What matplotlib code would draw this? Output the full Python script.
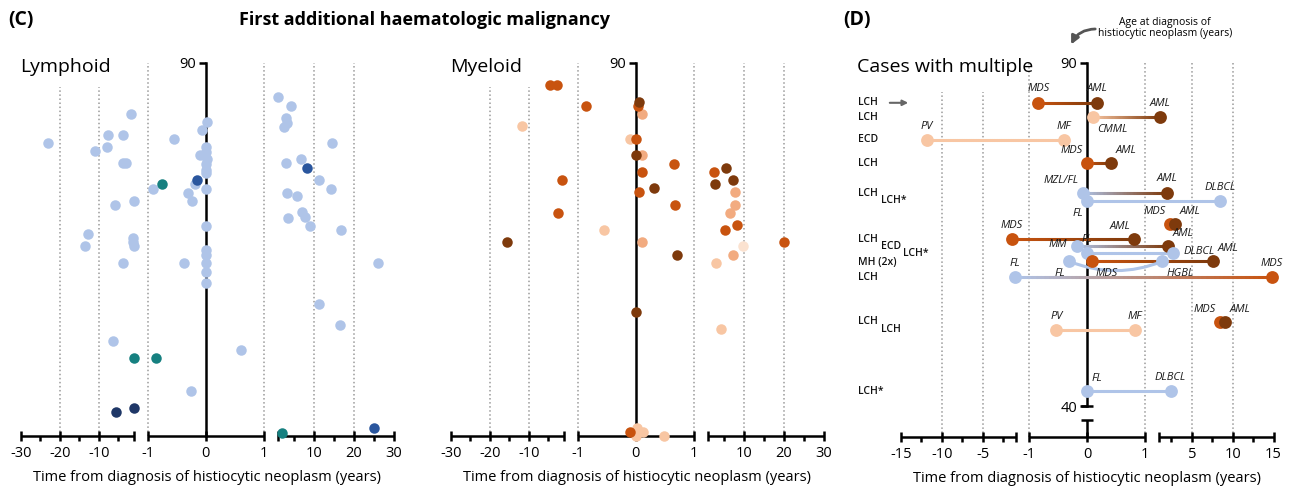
import numpy as np
import matplotlib
matplotlib.use('Agg')
import matplotlib.pyplot as plt
import matplotlib.colors as mcolors
import matplotlib.transforms as mtransforms
from matplotlib.collections import LineCollection

plt.rcParams['font.family'] = ['Open Sans', 'DejaVu Sans']

W, H = 1290, 497

# ---------------- panel C, lymphoid (time in years, age in years) ----------------
lym_light_t = [-23.1, -1.8, -7.7, -3.8, -11.0, -8.0, -3.8, -3.0, -1.0, -6.0, -12.7, -13.7,
               -1.2, -1.2, -1.1, -3.8, -6.5,
               0.03, -0.07, -0.54, 0.0, 0.0, -0.09, 0.02, 0.0, 0.01, 0.0, -0.18, -0.90, 0.0,
               -0.31, -0.23, 0.0, 0.0, 0.0, 0.0, 0.0, 0.0, -0.38, 0.60, -0.26,
               1.1, 4.2, 2.9, 3.2, 2.6, 14.5, 3.1, 6.8, 11.2, 14.4, 3.2, 5.8, 7.0, 7.8, 3.5,
               9.1, 16.7, 26.2, 11.4, 16.6]
lym_light_age = [70.8, 77.7, 72.7, 72.7, 68.8, 69.8, 65.8, 65.8, 56.7, 55.7, 48.7, 45.8,
                 47.7, 46.7, 45.8, 41.8, 22.9,
                 75.7, 73.8, 71.7, 69.8, 68.6, 67.8, 66.8, 65.6, 64.3, 63.4, 60.7, 59.7, 59.7,
                 58.7, 56.7, 50.7, 44.9, 43.7, 41.8, 39.6, 36.8, 41.8, 20.8, 10.8,
                 81.7, 79.7, 76.7, 75.6, 74.6, 70.8, 65.8, 66.8, 61.7, 59.7, 58.7, 57.8, 54.0, 52.9, 52.7,
                 50.7, 49.7, 41.8, 31.9, 26.8]
lym_teal_t = [-0.75, -1.1, -0.86, 2.1]
lym_teal_age = [60.7, 18.8, 18.8, 0.8]
lym_navy_t = [-5.5, -1.1]
lym_navy_age = [5.8, 6.8]
lym_blue_t = [-0.15, 8.3, 25.0]
lym_blue_age = [61.7, 64.7, 1.9]

# ---------------- panel C, myeloid ----------------
mye_brown_t = [0.06, 0.0, 0.32, -15.6, 0.70, 5.5, 2.7, 7.3, 0.01]
mye_brown_age = [80.7, 67.7, 59.8, 46.8, 43.7, 64.7, 60.7, 61.8, 29.9]
mye_orange_t = [-4.6, -2.7, -0.86, 0.04, 0.0, 0.66, 0.11, -1.6, 0.06, 0.68, -2.6, 2.4,
                8.3, 5.2, 20.1, -0.1]
mye_orange_age = [84.7, 84.7, 79.7, 79.7, 71.7, 65.7, 63.8, 61.8, 58.8, 55.8, 53.8, 63.8,
                  50.8, 49.8, 46.8, 0.9]
mye_salmon_t = [0.10, 0.11, 0.10, 7.9, 7.9, 6.5, 7.2]
mye_salmon_age = [77.7, 67.7, 46.8, 58.8, 55.8, 53.7, 43.7]
mye_peach_t = [-11.9, -0.09, -0.54, 2.9, 4.3, 0.03, 0.13, 0.0, 0.49]
mye_peach_age = [74.8, 71.7, 49.8, 41.8, 25.9, 1.9, 0.9, 0.0, 0.0]
mye_pale_t = [9.9]
mye_pale_age = [45.9]

# ---------------- panel D, cases with multiple ----------------
d_age = [84.2, 82.1, 78.8, 75.4, 71.1, 69.9, 66.6, 64.3, 63.3, 62.3, 61.1, 61.1, 58.8, 52.2, 51.1, 42.2]
d_first = ['MDS', 'CMML', 'PV', 'MDS', 'MZL/FL', 'FL', 'MDS', 'MDS', 'MM', 'FL', 'MDS', 'FL', 'FL', 'MDS', 'PV', 'FL']
d_first_t = [-0.84, 0.10, -11.8, 0.0, -0.08, 0.0, 2.35, -1.5, -0.18, 0.0, 0.08, -0.31, -1.1, 8.5, -0.53, 0.0]
d_second = ['AML', 'AML', 'MF', 'AML', 'AML', 'DLBCL', 'AML', 'AML', 'AML', 'DLBCL', 'AML', 'HGBL', 'MDS', 'AML', 'MF', 'DLBCL']
d_second_t = [0.17, 1.1, -0.40, 0.41, 1.94, 8.5, 2.96, 0.81, 2.14, 2.75, 7.6, 1.4, 14.8, 9.1, 0.83, 2.4]
d_link = ['line', 'line', 'line', 'line', 'line', 'line', 'none', 'line', 'line', 'line', 'line', 'arc',
          'line', 'none', 'line', 'line']
# where each italic label sits relative to its dot
d_first_pos = ['a', 'br', 'a', 'al', 'al', 'bl', 'al', 'a', 'l', 'a', 'br', 'bl', 'a', 'al', 'a', 'ar']
d_second_pos = ['a', 'a', 'a', 'ar', 'a', 'a', 'ar', 'al', 'ar', 'r', 'ar', 'br', 'a', 'ar', 'a', 'a']

row_labels = ['LCH', 'LCH', 'ECD', 'LCH', 'LCH', 'LCH*', 'LCH', 'ECD', 'LCH*', 'MH (2x)', 'LCH',
              'LCH', 'LCH', 'LCH*']
row_ages = [84.2, 82.1, 78.8, 75.4, 71.0, 69.9, 64.3, 63.2, 62.3, 61.0, 58.8, 52.3, 51.1, 42.2]
row_indent = [0, 0, 0, 0, 0, 1, 0, 1, 2, 0, 0, 0, 1, 0]

LIGHT_BLUE = '#afc4e8'
TEAL = '#168080'
NAVY = '#1f3767'
MID_BLUE = '#2a569e'
BROWN = '#7e3a0c'
ORANGE = '#c8530f'
SALMON = '#f2ab80'
PEACH = '#f8c6a3'
PALE = '#fbe2d0'
GRID = '#9a9a9a'

d_colors = {'MDS': ORANGE, 'AML': BROWN, 'CMML': PEACH, 'PV': PEACH, 'MF': PEACH,
            'MZL/FL': LIGHT_BLUE, 'FL': LIGHT_BLUE, 'DLBCL': LIGHT_BLUE, 'MM': LIGHT_BLUE,
            'HGBL': LIGHT_BLUE}


def make_scale(lim, us):
    # broken axis: [-lim,-1] | [-1,1] | [1,lim], tiny data ranges for the gaps
    xs = np.array([-lim, -1.0, -0.999, 1.0, 1.001, lim])
    us = np.array(us, dtype=float)
    s = (us[1] - us[0]) / (lim - 1)
    xs_e = np.concatenate([[-lim - 1000], xs, [lim + 1000]])
    us_e = np.concatenate([[us[0] - 1000 * s], us, [us[-1] + 1000 * s]])

    def fwd(x):
        return np.interp(np.asarray(x, dtype=float), xs_e, us_e)

    def inv(u):
        return np.interp(np.asarray(u, dtype=float), us_e, xs_e)
    return fwd, inv


fig = plt.figure(figsize=(W / 100, H / 100), dpi=100)


def px_axes(x0, x1, y_top, y_bot):
    return fig.add_axes([x0 / W, 1 - y_bot / H, (x1 - x0) / W, (y_bot - y_top) / H])


def setup(ax, lim, us, major, major_lab, minor, grid_full, grid_short, short_top, ylim):
    fwd, inv = make_scale(lim, us)
    ax.set_xscale('function', functions=(fwd, inv))
    ax.set_xlim(-lim, lim)
    ax.set_ylim(*ylim)
    for s in ['top', 'right', 'bottom']:
        ax.spines[s].set_visible(False)
    ax.spines['left'].set_position(('data', 0))
    ax.spines['left'].set_linewidth(1.8)
    ax.spines['left'].set_zorder(2.5)
    for a, b in [(-lim, -1.0), (-0.999, 1.0), (1.001, lim)]:
        ax.plot([a, b], [0, 0], transform=ax.get_xaxis_transform(), color='black', lw=1.8,
                clip_on=False, solid_capstyle='butt', zorder=2.5)
    ax.set_xticks(major)
    ax.set_xticklabels(major_lab)
    ax.set_xticks(minor, minor=True)
    ax.tick_params(axis='x', which='major', direction='inout', length=7, width=1.8,
                   labelsize=10.5, pad=4)
    ax.tick_params(axis='x', which='minor', direction='out', length=3.5, width=1.8)
    ax.tick_params(axis='y', direction='out', length=5, width=1.8, labelsize=10.5, pad=2)
    ax.vlines(grid_full, ylim[0], 90, colors=GRID, linestyles=':', lw=1.1, zorder=0)
    ax.vlines(grid_short, ylim[0], short_top, colors=GRID, linestyles=':', lw=1.1, zorder=0)
    ax.set_xlabel('Time from diagnosis of histiocytic neoplasm (years)', fontsize=10.5, labelpad=6)
    return fwd, inv


c_major = [-30, -20, -10, -1.0, -0.999, 0, 1.0, 1.001, 10, 20, 30]
c_major_lab = ['-30', '-20', '-10', '', '-1', '0', '1', '', '10', '20', '30']
c_minor = [-25, -15, -5, 5, 15, 25]
c_us = [0, 113, 126.5, 243, 257, 372.5]

# ---- Lymphoid ----
ax1 = px_axes(21, 393.5, 63, 436)
setup(ax1, 30, c_us, c_major, c_major_lab, c_minor, [-0.999, 1.0, 10, 20], [-20, -10], 84.2, (0, 90))
ax1.set_yticks([90])
ax1.scatter(lym_light_t, lym_light_age, s=57, color=LIGHT_BLUE, lw=0, zorder=3, clip_on=False)
ax1.scatter(lym_teal_t, lym_teal_age, s=57, color=TEAL, lw=0, zorder=3, clip_on=False)
ax1.scatter(lym_navy_t, lym_navy_age, s=57, color=NAVY, lw=0, zorder=3, clip_on=False)
ax1.scatter(lym_blue_t, lym_blue_age, s=57, color=MID_BLUE, lw=0, zorder=3, clip_on=False)

# ---- Myeloid ----
ax2 = px_axes(451, 823.5, 63, 436)
setup(ax2, 30, c_us, c_major, c_major_lab, c_minor, [-0.999, 1.0, 10, 20], [-20, -10], 84.2, (0, 90))
ax2.set_yticks([90])
for tt, aa, cc in [(mye_peach_t, mye_peach_age, PEACH), (mye_pale_t, mye_pale_age, PALE),
                   (mye_salmon_t, mye_salmon_age, SALMON), (mye_orange_t, mye_orange_age, ORANGE),
                   (mye_brown_t, mye_brown_age, BROWN)]:
    ax2.scatter(tt, aa, s=57, color=cc, lw=0, zorder=3, clip_on=False)

# ---- Cases with multiple ----
d_major = [-15, -10, -5, -1.0, -0.999, 0, 1.0, 1.001, 5, 10, 15]
d_major_lab = ['-15', '-10', '-5', '', '-1', '0', '1', '', '5', '10', '15']
d_minor = [-12.5, -7.5, -2.5, 2.5, 7.5, 12.5]
d_ylo = 35.5
ax3 = px_axes(900.7, 1273.5, 63, 437)
fwd, inv = setup(ax3, 15, [0, 115, 128.5, 244.5, 258.5, 372.8], d_major, d_major_lab, d_minor,
                 [-0.999, 1.0, 5, 10], [-10, -5], 85.8, (d_ylo, 90))
ax3.spines['left'].set_bounds(40, 90)
ax3.set_yticks([90, 40])
ax3.plot([0, 0], [d_ylo, 38.0], color='black', lw=1.8, clip_on=False, solid_capstyle='butt', zorder=2.5)
ax3.plot([0, 0], [38.0, 40], ls='none', marker='_', ms=8, mew=1.8, color='black', clip_on=False, zorder=2.5)

pos = {'a': (0, 6, 'center', 'bottom'), 'al': (-3, 5, 'right', 'bottom'),
       'ar': (3, 5, 'left', 'bottom'), 'bl': (-3, -5, 'right', 'top'),
       'br': (3, -5, 'left', 'top'), 'l': (-7, 1, 'right', 'center'),
       'r': (7, 1, 'left', 'center')}


def grad_line(ax, x0, x1, y, c0, c1, n=60):
    u = np.linspace(fwd([x0])[0], fwd([x1])[0], n)
    xs = inv(u)
    pts = np.column_stack([xs, np.full(n, y)])
    segs = np.stack([pts[:-1], pts[1:]], axis=1)
    t = np.linspace(0, 1, n - 1)[:, None]
    cols = np.array(mcolors.to_rgb(c0)) * (1 - t) + np.array(mcolors.to_rgb(c1)) * t
    lc = LineCollection(segs, colors=cols, linewidths=2.2, capstyle='round', zorder=2.6)
    ax.add_collection(lc, autolim=False)


for i in range(len(d_age)):
    c0, c1 = d_colors[d_first[i]], d_colors[d_second[i]]
    if d_link[i] == 'line':
        grad_line(ax3, d_first_t[i], d_second_t[i], d_age[i], c0, c1)
    elif d_link[i] == 'arc':
        ax3.annotate('', xy=(d_second_t[i], d_age[i]), xytext=(d_first_t[i], d_age[i]),
                     arrowprops=dict(arrowstyle='-', connectionstyle='arc3,rad=0.2', color=c0,
                                     lw=2.2, shrinkA=0, shrinkB=0), zorder=2.6)
for i in range(len(d_age)):
    for name, tt, p in [(d_first[i], d_first_t[i], d_first_pos[i]),
                        (d_second[i], d_second_t[i], d_second_pos[i])]:
        ax3.scatter([tt], [d_age[i]], s=85, color=d_colors[name], lw=0, zorder=3, clip_on=False)
        dx, dy, ha, va = pos[p]
        ax3.annotate(name, (tt, d_age[i]), xytext=(dx, dy), textcoords='offset points',
                     ha=ha, va=va, fontsize=8, style='italic', color='#1a1a1a', zorder=4)

blend = mtransforms.blended_transform_factory(fig.transFigure, ax3.transData)
for lab, age, ind in zip(row_labels, row_ages, row_indent):
    x = [858, 881, 903][ind]
    ax3.text(x / W, age, lab, transform=blend, fontsize=7.5, fontweight='semibold',
             ha='left', va='center', color='#111111')
ax3.annotate('', xy=(911 / W, row_ages[0]), xytext=(887 / W, row_ages[0]),
             xycoords=blend, textcoords=blend,
             arrowprops=dict(arrowstyle='-|>', color='#666666', lw=1.5, mutation_scale=8))

# ---- titles and notes ----
fig.text(8 / W, 1 - 20 / H, '(C)', fontsize=14, fontweight='bold', va='center')
fig.text(843 / W, 1 - 20 / H, '(D)', fontsize=14, fontweight='bold', va='center')
fig.text(425 / W, 1 - 20 / H, 'First additional haematologic malignancy', fontsize=13,
         fontweight='bold', va='center', ha='center')
fig.text(20 / W, 1 - 67 / H, 'Lymphoid', fontsize=14, va='center')
fig.text(450 / W, 1 - 67 / H, 'Myeloid', fontsize=14, va='center')
fig.text(857 / W, 1 - 67 / H, 'Cases with multiple', fontsize=14, va='center')
fig.text(1165 / W, 1 - 28 / H, 'Age at diagnosis of\nhistiocytic neoplasm (years)', fontsize=7.5,
         ha='center', va='center', linespacing=1.1)
fig.add_artist(matplotlib.patches.FancyArrowPatch(
    (1098 / W, 1 - 29 / H), (1070 / W, 1 - 47 / H), transform=fig.transFigure,
    connectionstyle='arc3,rad=0.35', arrowstyle='-|>', mutation_scale=12, color='#555555', lw=2))

fig.savefig('out.png', dpi=100)
